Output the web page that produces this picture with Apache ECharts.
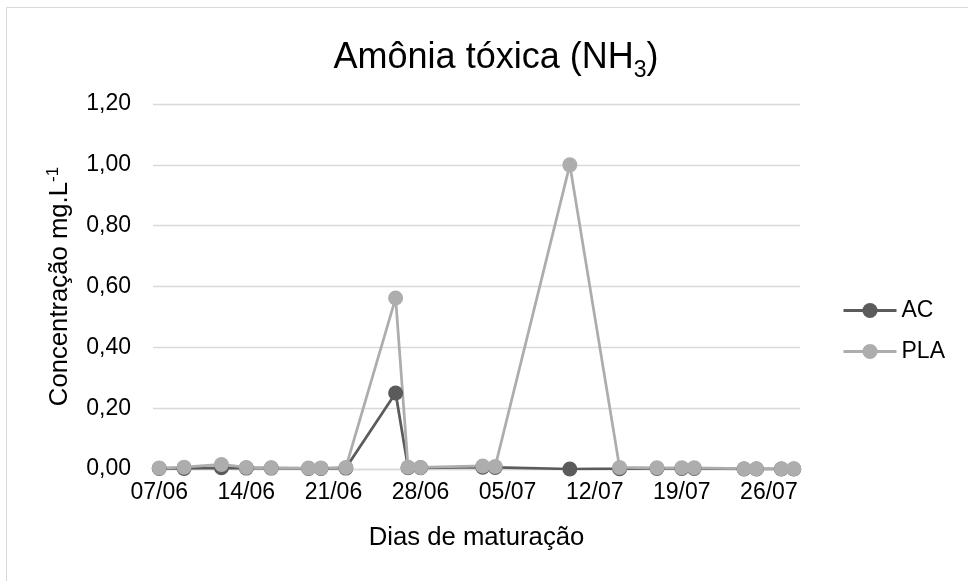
<!DOCTYPE html>
<html>
<head>
<meta charset="utf-8">
<script src="https://cdn.jsdelivr.net/npm/echarts@6/dist/echarts.min.js"></script>
<style>
  html, body { margin: 0; padding: 0; background: #fff; }
  #main { width: 968px; height: 581px; }
</style>
</head>
<body>
<div id="main"></div>
<script>
// sampling dates (dd/mm) and measured values
const dates = ['07/06', '09/06', '12/06', '14/06', '16/06', '19/06', '20/06', '22/06', '26/06', '27/06', '28/06',
  '03/07', '04/07', '10/07', '14/07', '17/07', '19/07', '20/07', '24/07', '25/07', '27/07', '28/07'];
const acValues = [0.002, 0.002, 0.004, 0.003, 0.003, 0.002, 0.002, 0.003, 0.25, 0.004, 0.004,
  0.006, 0.005, 0.000, 0.001, 0.002, 0.002, 0.002, 0.000, 0.000, 0.000, 0.000];
const plaValues = [0.003, 0.006, 0.015, 0.005, 0.004, 0.003, 0.003, 0.005, 0.562, 0.006, 0.005,
  0.010, 0.008, 1.00, 0.005, 0.004, 0.004, 0.004, 0.001, 0.001, 0.001, 0.001];
const seriesNames = ['AC', 'PLA'];
const yTicks = [0, 0.2, 0.4, 0.6, 0.8, 1.0, 1.2];

// date axis: every day from first to last sample (Excel style date axis)
const firstDay = new Date(2019, 5, 7);
const lastDay = new Date(2019, 6, 28);
const days = [];
function fmt(d) {
  return String(d.getDate()).padStart(2, '0') + '/' + String(d.getMonth() + 1).padStart(2, '0');
}
for (let d = new Date(firstDay); d <= lastDay; d.setDate(d.getDate() + 1)) {
  days.push(fmt(d));
}

const chart = echarts.init(document.getElementById('main'), null, { renderer: 'canvas' });

const option = {
  animation: false,
  backgroundColor: '#fff',
  color: ['#5b5b5b', '#adadad'],
  graphic: [{
    type: 'rect',
    shape: { x: 6.5, y: 7.5, width: 1000, height: 1000 },
    style: { fill: 'none', stroke: '#d9d9d9', lineWidth: 1 },
    silent: true
  }],
  title: {
    text: '{a|Amônia tóxica (NH}{s|3}{a|)}',
    left: 491,
    textAlign: 'center',
    top: 31,
    textStyle: {
      fontWeight: 'normal',
      rich: {
        a: { fontFamily: 'Liberation Sans', fontWeight: 'normal', fontSize: 36, lineHeight: 44, color: '#000' },
        s: { fontFamily: 'Liberation Sans', fontWeight: 'normal', fontSize: 23, lineHeight: 24, padding: [26, 0, 0, 0], color: '#000' }
      }
    }
  },
  legend: {
    orient: 'vertical',
    left: 837,
    top: 294,
    itemWidth: 53,
    itemHeight: 19,
    itemGap: 18,
    lineStyle: { width: 3 },
    textStyle: { fontFamily: 'Liberation Sans', fontSize: 23, color: '#000' },
    data: seriesNames
  },
  grid: { left: 153, right: 168, top: 104, bottom: 112, containLabel: false },
  xAxis: {
    type: 'category',
    data: days,
    boundaryGap: true,
    name: 'Dias de maturação',
    nameLocation: 'middle',
    nameGap: 56,
    nameTextStyle: { fontFamily: 'Liberation Sans', fontSize: 25.7, color: '#000' },
    axisLine: { lineStyle: { color: '#d9d9d9', width: 1.3 } },
    axisTick: { show: false },
    axisLabel: {
      interval: 6,
      margin: 12,
      fontFamily: 'Liberation Sans',
      fontSize: 23,
      color: '#000'
    },
    splitLine: { show: false }
  },
  yAxis: {
    type: 'value',
    min: yTicks[0],
    max: yTicks[yTicks.length - 1],
    interval: 0.2,
    name: '{a|Concentração mg.L}{b|-1}',
    nameLocation: 'middle',
    nameGap: 78,
    nameTextStyle: {
      rich: {
        a: { fontFamily: 'Liberation Sans', fontSize: 25.7, lineHeight: 30, color: '#000' },
        b: { fontFamily: 'Liberation Sans', fontSize: 17, lineHeight: 17, padding: [0, 0, 13, 0], color: '#000' }
      }
    },
    axisLine: { show: false },
    axisTick: { show: false },
    axisLabel: {
      margin: 22,
      fontFamily: 'Liberation Sans',
      fontSize: 23,
      color: '#000',
      formatter: v => v.toFixed(2).replace('.', ',')
    },
    splitLine: { lineStyle: { color: '#d9d9d9', width: 1.3 } }
  },
  series: [
    {
      name: seriesNames[0],
      type: 'line',
      data: dates.map((d, i) => [d, acValues[i]]),
      symbol: 'circle',
      symbolSize: 15,
      showAllSymbol: true,
      lineStyle: { width: 2.75 },
      itemStyle: { color: '#5b5b5b' }
    },
    {
      name: seriesNames[1],
      type: 'line',
      data: dates.map((d, i) => [d, plaValues[i]]),
      symbol: 'circle',
      symbolSize: 15,
      showAllSymbol: true,
      lineStyle: { width: 2.75 },
      itemStyle: { color: '#adadad' }
    }
  ]
};

chart.setOption(option);
</script>
</body>
</html>
